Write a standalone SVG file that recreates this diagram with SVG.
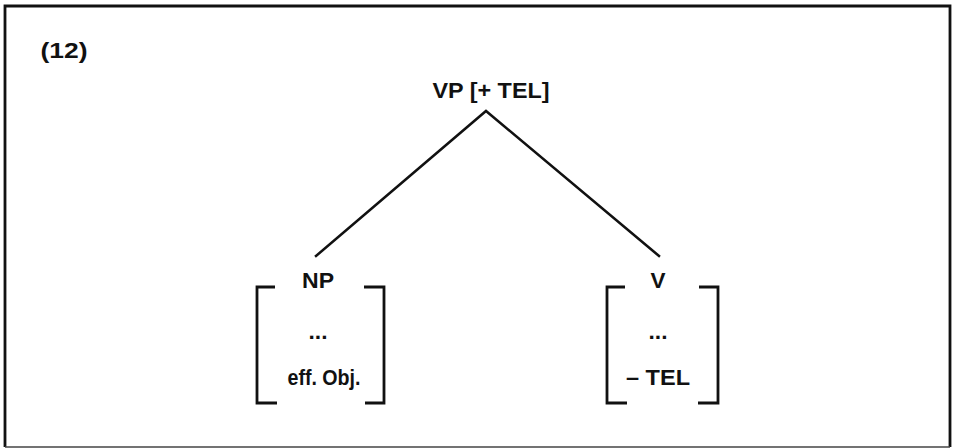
<svg xmlns="http://www.w3.org/2000/svg" width="953" height="448" viewBox="0 0 953 448">
<style>
.t{font-family:"Liberation Sans",Arial,sans-serif;font-weight:bold;font-size:22.5px;fill:#111;text-anchor:middle}
.ln{stroke:#111;stroke-width:2.5;fill:none;stroke-linecap:square}
.br{stroke:#111;stroke-width:2.8;fill:none}
</style>
<rect width="953" height="448" fill="#fff"/>
<g id="frame">
<path class="br" d="M5 447 V6 H950 V447"/>
<path d="M5 447 H950" stroke="#444" stroke-width="1.6" fill="none"/>
</g>
<g id="label">
<text class="t" x="64" y="58" textLength="47" lengthAdjust="spacingAndGlyphs">(12)</text>
</g>
<g id="connectors">
<path class="ln" d="M316 256 L486 111 L659 256"/>
</g>
<g id="vp">
<text class="t" x="491" y="98" textLength="117" lengthAdjust="spacingAndGlyphs">VP [+ TEL]</text>
</g>
<g id="np">
<path class="br" d="M275 287 H257 V403 H277"/>
<path class="br" d="M364 287 H384 V403 H365"/>
<text class="t" x="318" y="288" textLength="32" lengthAdjust="spacingAndGlyphs">NP</text>
<text class="t" x="318" y="339" textLength="19" lengthAdjust="spacingAndGlyphs">...</text>
<text class="t" x="324" y="385" textLength="73" lengthAdjust="spacingAndGlyphs">eff. Obj.</text>
</g>
<g id="v">
<path class="br" d="M625 287 H607 V403 H627"/>
<path class="br" d="M699 287 H718 V403 H698"/>
<text class="t" x="658" y="288">V</text>
<text class="t" x="658" y="339" textLength="19" lengthAdjust="spacingAndGlyphs">...</text>
<text class="t" x="658" y="385" textLength="64" lengthAdjust="spacingAndGlyphs">– TEL</text>
</g>
</svg>
